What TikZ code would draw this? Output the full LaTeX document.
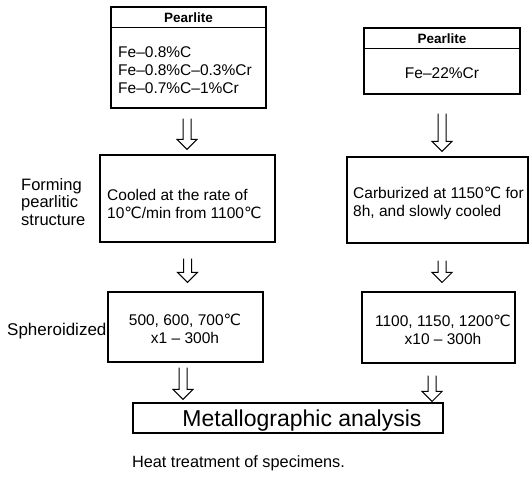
\documentclass[tikz,border=0pt]{standalone}
\usepackage{fontspec}
\setmainfont{Liberation Sans}
\newfontfamily\dejavu{DejaVu Sans}
\usetikzlibrary{calc}
\newcommand{\dC}{{\dejavu ℃}}
\newcommand{\hdown}[5]{%
  \path ($(#1.south)+(#5,#3)$) coordinate (hs);
  \path (hs |- #2.north) coordinate (hb);
  \path ($(hb)+(0,-#4)$) coordinate (ht);
  \draw[harrow] ($(hs)+(-4,0)$) -- ($(ht)+(-4,-10)$) -- ($(ht)+(-10,-10)$) -- (ht)
     -- ($(ht)+(10,-10)$) -- ($(ht)+(4,-10)$) -- ($(hs)+(4,0)$);
}
\begin{document}
\begin{tikzpicture}[x=1pt,y=-1pt,
  box/.style={draw, line width=1.1pt, rectangle, inner sep=0pt},
  body/.style={font=\fontsize{15.5}{18}\selectfont, inner sep=0pt},
  head/.style={font=\bfseries\fontsize{13.5}{16}\selectfont, inner sep=0pt},
  side/.style={font=\fontsize{16.5}{17.5}\selectfont, inner sep=0pt, align=left},
  harrow/.style={draw, line width=1pt, line join=miter},
  divider/.style={line width=1.1pt}]
\useasboundingbox (0,0) rectangle (531,480);
% left column
\node[box, minimum width=155pt, minimum height=101pt] (b1) at (188.5,57.5) {};
\draw[divider] ($(b1.north west)+(0,21)$) -- ($(b1.north east)+(0,21)$);
\node[head] (h1) at ($(b1.north)+(0,11)$) {Pearlite};
\node[body, anchor=west, align=left] (t1) at (118,70) {Fe–0.8\%C\\Fe–0.8\%C–0.3\%Cr\\Fe–0.7\%C–1\%Cr};

\node[box, minimum width=175pt, minimum height=87pt] (b2) at (187.5,198.5) {};
\node[body, anchor=west, align=left] (t2) at (107,204) {Cooled at the rate of\\10\dC/min from 1100\dC};

\node[box, minimum width=155pt, minimum height=70pt] (b3) at (185.5,327) {};
\node[body, align=center] (t3) at (185,329) {500, 600, 700\dC\\x1 – 300h};

% right column
\node[box, minimum width=156pt, minimum height=66pt] (r1) at (442,61) {};
\draw[divider] ($(r1.north west)+(0,21)$) -- ($(r1.north east)+(0,21)$);
\node[head] (h2) at ($(r1.north)+(0,11)$) {Pearlite};
\node[body] (u1) at (442,73) {Fe–22\%Cr};

\node[box, minimum width=181pt, minimum height=86pt] (r2) at (437.5,200) {};
\node[body, anchor=west, align=left] (u2) at (353,203) {Carburized at 1150\dC{} for\\8h, and slowly cooled};

\node[box, minimum width=153pt, minimum height=71pt] (r3) at (438.5,327.5) {};
\node[body, align=center] (u3) at (443,330) {1100, 1150, 1200\dC\\x10 – 300h};

% final box
\node[box, minimum width=310pt, minimum height=30pt] (m) at (288,418) {};
\node[font=\fontsize{23}{26}\selectfont, inner sep=0pt] (mt) at (302,421) {Metallographic analysis};

% side labels
\node[side, anchor=west] (s1) at (21,202) {Forming\\pearlitic\\structure};
\node[side, anchor=west, font=\fontsize{17}{18}\selectfont] (s2) at (7,331) {Spheroidized};

% caption
\node[font=\fontsize{16.3}{18}\selectfont, inner sep=0pt] (cap) at (238.5,463) {Heat treatment of specimens.};

% arrows
\hdown{b1}{b2}{10}{5}{-1.5}
\hdown{r1}{r2}{19}{5}{0}
\hdown{b2}{b3}{16}{9}{0}
\hdown{r2}{r3}{17}{9}{4.5}
\hdown{b3}{m}{5}{3}{-2.5}
\hdown{r3}{m}{12}{1}{-6.5}
\end{tikzpicture}
\end{document}
